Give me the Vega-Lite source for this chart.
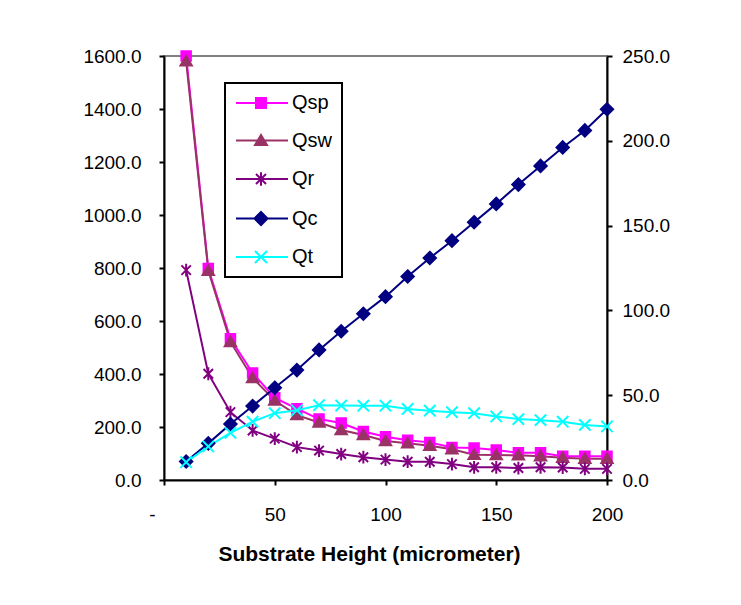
{
  "$schema": "https://vega.github.io/schema/vega-lite/v6.json",
  "width": 443,
  "height": 424,
  "autosize": {"type": "none"},
  "padding": {"left": 164, "top": 56, "right": 134, "bottom": 125},
  "background": "white",
  "config": {
    "font": "Liberation Sans",
    "view": {"stroke": "#808080", "strokeWidth": 2},
    "legend": {"strokeWidth": 2},
    "axis": {
      "domainColor": "black", "domainWidth": 2, "tickColor": "black", "tickWidth": 2, "tickSize": 5,
      "labelColor": "black", "labelFontSize": 19, "labelFont": "Liberation Sans", "grid": false,
      "titleColor": "black", "titleFont": "Liberation Sans"
    }
  },
  "datasets": {
    "series": [{"s":"Qsp"},{"s":"Qsw"},{"s":"Qr"},{"s":"Qc"},{"s":"Qt"}],
    "primary": [
      {"h":10,"s":"Qsp","q":1600},{"h":20,"s":"Qsp","q":798},{"h":30,"s":"Qsp","q":533},{"h":40,"s":"Qsp","q":404},{"h":50,"s":"Qsp","q":310},
      {"h":60,"s":"Qsp","q":269},{"h":70,"s":"Qsp","q":230},{"h":80,"s":"Qsp","q":215},{"h":90,"s":"Qsp","q":183},{"h":100,"s":"Qsp","q":163},
      {"h":110,"s":"Qsp","q":150},{"h":120,"s":"Qsp","q":142},{"h":130,"s":"Qsp","q":123},{"h":140,"s":"Qsp","q":121},{"h":150,"s":"Qsp","q":113},
      {"h":160,"s":"Qsp","q":103},{"h":170,"s":"Qsp","q":103},{"h":180,"s":"Qsp","q":90},{"h":190,"s":"Qsp","q":90},{"h":200,"s":"Qsp","q":90},
      {"h":10,"s":"Qsw","q":1580},{"h":20,"s":"Qsw","q":790},{"h":30,"s":"Qsw","q":521},{"h":40,"s":"Qsw","q":385},{"h":50,"s":"Qsw","q":300},
      {"h":60,"s":"Qsw","q":245},{"h":70,"s":"Qsw","q":217},{"h":80,"s":"Qsw","q":189},{"h":90,"s":"Qsw","q":170},{"h":100,"s":"Qsw","q":147},
      {"h":110,"s":"Qsw","q":139},{"h":120,"s":"Qsw","q":129},{"h":130,"s":"Qsw","q":116},{"h":140,"s":"Qsw","q":95},{"h":150,"s":"Qsw","q":94},
      {"h":160,"s":"Qsw","q":93},{"h":170,"s":"Qsw","q":90},{"h":180,"s":"Qsw","q":84},{"h":190,"s":"Qsw","q":80},{"h":200,"s":"Qsw","q":80},
      {"h":10,"s":"Qr","q":792},{"h":20,"s":"Qr","q":401},{"h":30,"s":"Qr","q":256},{"h":40,"s":"Qr","q":187},{"h":50,"s":"Qr","q":156},
      {"h":60,"s":"Qr","q":124},{"h":70,"s":"Qr","q":111},{"h":80,"s":"Qr","q":98},{"h":90,"s":"Qr","q":86},{"h":100,"s":"Qr","q":77},
      {"h":110,"s":"Qr","q":69},{"h":120,"s":"Qr","q":69},{"h":130,"s":"Qr","q":60},{"h":140,"s":"Qr","q":48},{"h":150,"s":"Qr","q":48},
      {"h":160,"s":"Qr","q":45},{"h":170,"s":"Qr","q":48},{"h":180,"s":"Qr","q":47},{"h":190,"s":"Qr","q":42},{"h":200,"s":"Qr","q":42}
    ],
    "secondary": [
      {"h":10,"s":"Qc","q":10.9},{"h":20,"s":"Qc","q":21.6},{"h":30,"s":"Qc","q":33.0},{"h":40,"s":"Qc","q":43.6},{"h":50,"s":"Qc","q":54.4},
      {"h":60,"s":"Qc","q":64.8},{"h":70,"s":"Qc","q":76.7},{"h":80,"s":"Qc","q":87.7},{"h":90,"s":"Qc","q":98.0},{"h":100,"s":"Qc","q":108.1},
      {"h":110,"s":"Qc","q":120.0},{"h":120,"s":"Qc","q":130.9},{"h":130,"s":"Qc","q":141.1},{"h":140,"s":"Qc","q":152.0},{"h":150,"s":"Qc","q":162.8},
      {"h":160,"s":"Qc","q":174.2},{"h":170,"s":"Qc","q":185.2},{"h":180,"s":"Qc","q":196.1},{"h":190,"s":"Qc","q":206.1},{"h":200,"s":"Qc","q":218.6},
      {"h":10,"s":"Qt","q":10.5},{"h":20,"s":"Qt","q":19.8},{"h":30,"s":"Qt","q":27.8},{"h":40,"s":"Qt","q":34.4},{"h":50,"s":"Qt","q":39.4},
      {"h":60,"s":"Qt","q":41.1},{"h":70,"s":"Qt","q":44.1},{"h":80,"s":"Qt","q":43.9},{"h":90,"s":"Qt","q":43.8},{"h":100,"s":"Qt","q":43.8},
      {"h":110,"s":"Qt","q":41.9},{"h":120,"s":"Qt","q":40.9},{"h":130,"s":"Qt","q":40.0},{"h":140,"s":"Qt","q":39.4},{"h":150,"s":"Qt","q":37.5},
      {"h":160,"s":"Qt","q":35.9},{"h":170,"s":"Qt","q":35.3},{"h":180,"s":"Qt","q":34.4},{"h":190,"s":"Qt","q":32.5},{"h":200,"s":"Qt","q":31.6}
    ]
  },
  "layer": [
    {
      "data": {"name": "primary"},
      "encoding": {
        "x": {"field": "h", "type": "quantitative",
          "scale": {"domain": [0, 200], "nice": false},
          "axis": {"values": [0, 50, 100, 150, 200], "labelExpr": "datum.value == 0 ? '-' : datum.label",
            "labelFlush": false, "labelPadding": 20,
            "labelOffset": {"condition": {"test": "datum.value == 0", "value": -12}, "value": 0},
            "title": "Substrate Height (micrometer)", "titleFontSize": 21, "titleFontWeight": "bold",
            "titleX": 205, "titleY": 80, "titleBaseline": "alphabetic", "titleAlign": "center"}},
        "y": {"field": "q", "type": "quantitative",
          "scale": {"domain": [0, 1600], "nice": false},
          "axis": {"orient": "left", "values": [0, 200, 400, 600, 800, 1000, 1200, 1400, 1600], "format": ".1f", "labelPadding": 18, "title": null}}
      },
      "layer": [
        {"mark": {"type": "line", "strokeWidth": 2},
         "encoding": {"color": {"field": "s", "type": "nominal", "legend": null,
            "scale": {"domain": ["Qsp","Qsw","Qr","Qc","Qt"], "range": ["#ff00ff","#993366","#800080","#000080","#00ffff"]}},
           "detail": {"field": "s"}}},
        {"mark": {"type": "point", "filled": true, "strokeWidth": 2, "opacity": 1, "size": 90},
         "encoding": {
           "color": {"field": "s", "type": "nominal", "legend": null, "scale": {"domain": ["Qsp","Qsw","Qr","Qc","Qt"], "range": ["#ff00ff","#993366","#800080","#000080","#00ffff"]}},
           "stroke": {"field": "s", "type": "nominal", "legend": null, "scale": {"domain": ["Qsp","Qsw","Qr","Qc","Qt"], "range": ["#ff00ff","#993366","#800080","#000080","#00ffff"]}},
           "shape": {"field": "s", "type": "nominal", "legend": null,
             "scale": {"domain": ["Qsp","Qsw","Qr","Qc","Qt"], "range": ["M-1,-1H1V1H-1Z", "M0,-1.1L1.2,0.9H-1.2Z", "M-1,-1L1,1M-1,1L1,-1M0,-1.35V1.35", "M0,-1.3L1.3,0L0,1.3L-1.3,0Z", "M-1.2,-1.2L1.2,1.2M-1.2,1.2L1.2,-1.2"]}}
         }}
      ]
    },
    {
      "data": {"name": "secondary"},
      "encoding": {
        "x": {"field": "h", "type": "quantitative", "scale": {"domain": [0, 200], "nice": false}},
        "y": {"field": "q", "type": "quantitative",
          "scale": {"domain": [0, 250], "nice": false},
          "axis": {"orient": "right", "values": [0, 50, 100, 150, 200, 250], "format": ".1f", "labelPadding": 10, "title": null}}
      },
      "layer": [
        {"mark": {"type": "line", "strokeWidth": 2},
         "encoding": {"color": {"field": "s", "type": "nominal", "legend": null}, "detail": {"field": "s"}}},
        {"mark": {"type": "point", "filled": true, "strokeWidth": 2, "opacity": 1, "size": 90},
         "encoding": {
           "color": {"field": "s", "type": "nominal", "legend": null},
           "stroke": {"field": "s", "type": "nominal", "legend": null},
           "shape": {"field": "s", "type": "nominal", "legend": null,
             "scale": {"domain": ["Qsp","Qsw","Qr","Qc","Qt"], "range": ["M-1,-1H1V1H-1Z", "M0,-1.1L1.2,0.9H-1.2Z", "M-1,-1L1,1M-1,1L1,-1M0,-1.35V1.35", "M0,-1.3L1.3,0L0,1.3L-1.3,0Z", "M-1.2,-1.2L1.2,1.2M-1.2,1.2L1.2,-1.2"]}}
         }}
      ]
    },
    {
      "data": {"name": "series"},
      "mark": {"type": "point", "filled": true, "strokeWidth": 2, "opacity": 0, "size": 100},
      "encoding": {
        "color": {"field": "s", "type": "nominal",
          "scale": {"domain": ["Qsp","Qsw","Qr","Qc","Qt"], "range": ["#ff00ff","#993366","#800080","#000080","#00ffff"]},
          "legend": {"orient": "none", "legendX": 61, "legendY": 27, "title": null, "strokeColor": "black", "fillColor": "white", "padding": 10,
            "labelFontSize": 20, "labelColor": "black", "labelFont": "Liberation Sans", "labelOffset": 37, "rowPadding": 17.5,
            "symbolSize": 100, "symbolStrokeWidth": 2, "symbolOpacity": 1}},
        "stroke": {"field": "s", "type": "nominal",
          "scale": {"domain": ["Qsp","Qsw","Qr","Qc","Qt"], "range": ["#ff00ff","#993366","#800080","#000080","#00ffff"]},
          "legend": {"orient": "none", "legendX": 61, "legendY": 27, "title": null, "strokeColor": "black", "fillColor": "white", "padding": 10,
            "labelFontSize": 20, "labelColor": "black", "labelFont": "Liberation Sans", "labelOffset": 37, "rowPadding": 17.5,
            "symbolSize": 100, "symbolStrokeWidth": 2, "symbolOpacity": 1}},
        "shape": {"field": "s", "type": "nominal",
          "scale": {"domain": ["Qsp","Qsw","Qr","Qc","Qt"], "range": ["M-1.8,0H8.6M2.2,-1H4.2V1H2.2Z", "M-1.8,0H8.6M3.2,-1.1L4.4,0.9H2Z", "M-1.8,0H8.6M2.2,-1L4.2,1M2.2,1L4.2,-1M3.2,-1.35V1.35", "M-1.8,0H8.6M3.2,-1.3L4.5,0L3.2,1.3L1.9,0Z", "M-1.8,0H8.6M2,-1.2L4.4,1.2M2,1.2L4.4,-1.2"]},
          "legend": {"orient": "none", "legendX": 61, "legendY": 27, "title": null, "strokeColor": "black", "fillColor": "white", "padding": 10,
            "labelFontSize": 20, "labelColor": "black", "labelFont": "Liberation Sans", "labelOffset": 37, "rowPadding": 17.5,
            "symbolSize": 100, "symbolStrokeWidth": 2, "symbolOpacity": 1}}
      }
    }
  ],
  "resolve": {
    "scale": {"y": "independent", "shape": "independent"},
    "legend": {"color": "independent", "stroke": "independent", "shape": "independent"}
  }
}
